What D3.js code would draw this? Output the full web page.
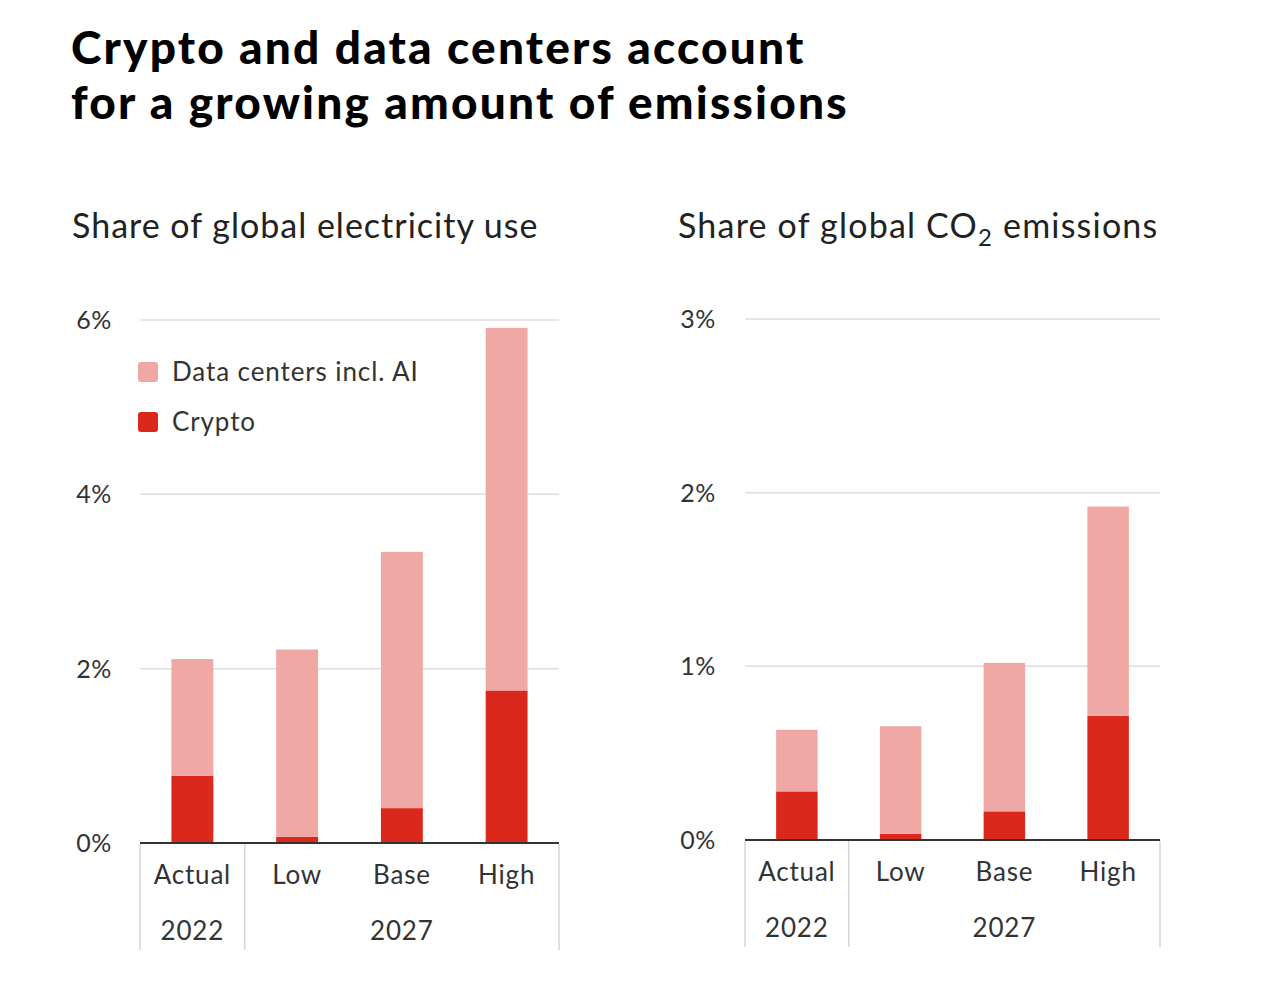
<!DOCTYPE html>
<html><head><meta charset="utf-8">
<script src="https://cdn.jsdelivr.net/npm/d3@7"></script>
<style>
body{margin:0;background:#fff;}
text{font-family:Lato,"Open Sans",sans-serif;}
</style></head>
<body>
<svg id="chart" width="1280" height="997"></svg>
<script>
// ---- data ----
const categories = ["Actual", "Low", "Base", "High"];
const yearLabels = ["2022", "2027"];
const yearGroups = [["Actual"], ["Low", "Base", "High"]];
const seriesNames = ["Crypto", "Data centers incl. AI"];
const elecCrypto = [0.77, 0.07, 0.40, 1.75];
const elecDataCenters = [1.34, 2.15, 2.94, 4.16];
const co2Crypto = [0.28, 0.035, 0.165, 0.715];
const co2DataCenters = [0.355, 0.62, 0.855, 1.205];
const elecTicks = [0, 2, 4, 6];
const co2Ticks = [0, 1, 2, 3];

const colors = {"Crypto": "#da291c", "Data centers incl. AI": "#f0a8a5"};
const svg = d3.select("#chart");

// title
const title = svg.append("text").attr("x", 72).attr("fill", "#000")
  .style("font-size", "46px").style("font-weight", 900).style("letter-spacing", "2.2px");
title.append("tspan").attr("x", 71).attr("y", 64).text("Crypto and data centers account");
title.append("tspan").attr("x", 71).attr("y", 119).text("for a growing amount of emissions");

function panel(opts) {
  const {x0, x1, yTop, yBase, crypto, dc, ticks, labelX} = opts;
  const x = d3.scaleBand().domain(categories).range([x0, x1]).paddingInner(0.6).paddingOuter(0.3);
  const y = d3.scaleLinear().domain([0, d3.max(ticks)]).range([yBase, yTop]);
  const g = svg.append("g");
  // gridlines
  g.selectAll("line.grid").data(ticks.filter(t => t > 0)).join("line")
    .attr("x1", x0).attr("x2", x1).attr("y1", d => y(d)).attr("y2", d => y(d))
    .attr("stroke", "#dedede").attr("stroke-width", 1.5);
  // tick labels
  g.selectAll("text.tick").data(ticks).join("text")
    .attr("x", labelX).attr("y", d => y(d)).attr("dy", "0.36em")
    .attr("text-anchor", "end").attr("fill", "#333")
    .style("font-size", "25px").style("letter-spacing", "0.6px").text(d => d + "%");
  // stacked data
  const rows = categories.map((c, i) => ({cat: c, "Crypto": crypto[i], "Data centers incl. AI": dc[i]}));
  const stack = d3.stack().keys(seriesNames)(rows);
  g.selectAll("g.series").data(stack).join("g").attr("fill", d => colors[d.key])
    .selectAll("rect").data(d => d).join("rect")
    .attr("x", d => x(d.data.cat)).attr("width", x.bandwidth())
    .attr("y", d => y(d[1])).attr("height", d => y(d[0]) - y(d[1]));
  // baseline
  g.append("line").attr("x1", x0).attr("x2", x1).attr("y1", yBase).attr("y2", yBase)
    .attr("stroke", "#333").attr("stroke-width", 2);
  // group separators
  const bottom = yBase + 107;
  const seps = [x0];
  yearGroups.forEach(gr => seps.push(x(gr[gr.length - 1]) + x.bandwidth() + x.step() * x.paddingInner() / 2));
  seps[seps.length - 1] = x1;
  g.selectAll("line.sep").data(seps).join("line")
    .attr("x1", d => d).attr("x2", d => d).attr("y1", yBase + 1).attr("y2", bottom)
    .attr("stroke", "#d6d6d6").attr("stroke-width", 1.5);
  // category labels
  g.selectAll("text.cat").data(categories).join("text")
    .attr("x", d => x(d) + x.bandwidth() / 2).attr("y", yBase + 32).attr("dy", "0.36em")
    .attr("text-anchor", "middle").attr("fill", "#333").style("font-size", "26px")
    .style("letter-spacing", "0.8px").text(d => d);
  // year labels
  g.selectAll("text.year").data(yearLabels).join("text")
    .attr("x", (d, i) => {
      const gr = yearGroups[i];
      return (x(gr[0]) + x(gr[gr.length - 1]) + x.bandwidth()) / 2;
    })
    .attr("y", yBase + 88).attr("dy", "0.36em")
    .attr("text-anchor", "middle").attr("fill", "#333").style("font-size", "26px")
    .style("letter-spacing", "0.8px").text(d => d);
  return {x, y};
}

panel({x0: 140, x1: 559, yTop: 320, yBase: 843, crypto: elecCrypto, dc: elecDataCenters, ticks: elecTicks, labelX: 112});
panel({x0: 745, x1: 1160, yTop: 319, yBase: 840, crypto: co2Crypto, dc: co2DataCenters, ticks: co2Ticks, labelX: 716});

// subtitles
svg.append("text").attr("x", 72).attr("y", 238).attr("fill", "#222").style("font-size", "34px")
  .style("letter-spacing", "1px").text("Share of global electricity use");
const sub2 = svg.append("text").attr("x", 678).attr("y", 238).attr("fill", "#222").style("font-size", "34px")
  .style("letter-spacing", "1.2px");
sub2.append("tspan").text("Share of global CO");
sub2.append("tspan").attr("dy", 8).style("font-size", "24px").text("2");
sub2.append("tspan").attr("dy", -8).text(" emissions");

// legend
const legendItems = ["Data centers incl. AI", "Crypto"];
const lg = svg.append("g").selectAll("g").data(legendItems).join("g")
  .attr("transform", (d, i) => `translate(138,${362 + i * 50})`);
lg.append("rect").attr("width", 20).attr("height", 20).attr("rx", 3).attr("fill", d => colors[d]);
lg.append("text").attr("x", 34).attr("y", 10).attr("dy", "0.36em").attr("fill", "#333")
  .style("font-size", "26px").style("letter-spacing", "0.9px").text(d => d);
</script>
</body></html>
